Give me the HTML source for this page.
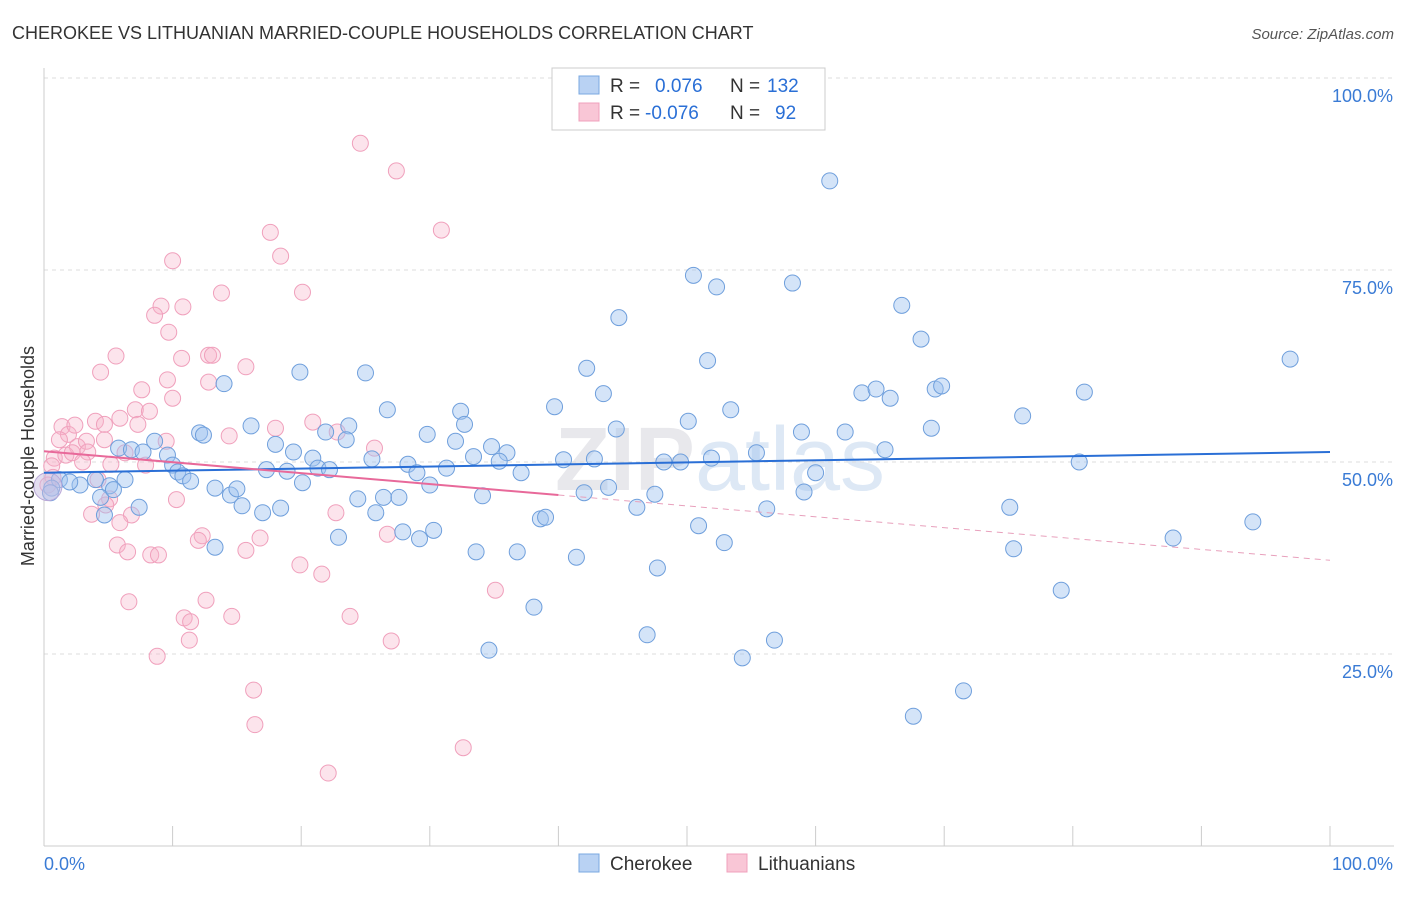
<!DOCTYPE html>
<html><head><meta charset="utf-8">
<style>
body{margin:0;background:#fff;font-family:"Liberation Sans",sans-serif;}
svg text{font-family:"Liberation Sans",sans-serif;}
</style></head>
<body>
<svg id="chart" width="1406" height="892" viewBox="0 0 1406 892" xmlns="http://www.w3.org/2000/svg">
<text x="12" y="39" font-size="18" fill="#333">CHEROKEE VS LITHUANIAN MARRIED-COUPLE HOUSEHOLDS CORRELATION CHART</text>
<text x="1394" y="39" font-size="15" fill="#555" font-style="italic" text-anchor="end">Source: ZipAtlas.com</text>
<text x="720" y="490" font-size="90" fill="#e8e8ec" text-anchor="middle" font-weight="bold">ZIP<tspan fill="#dde8f5" font-weight="normal">atlas</tspan></text>
<g id="grid"></g>
<g id="axes"></g>
<g id="pts"></g>
<g id="trends"></g>
<text transform="translate(34,456) rotate(-90)" font-size="18" fill="#333" text-anchor="middle">Married-couple Households</text>
<g>
<rect x="552" y="68" width="273" height="62" fill="#fff" stroke="#ccc"/>
<rect x="579" y="76" width="20" height="18" fill="#b9d2f3" stroke="#7aa8e0"/>
<rect x="579" y="103" width="20" height="18" fill="#f9c6d6" stroke="#f0a0bc"/>
<text x="610" y="92" font-size="19" fill="#333">R = </text><text x="655" y="92" font-size="19" fill="#2a6fd6">0.076</text>
<text x="730" y="92" font-size="19" fill="#333">N = </text><text x="767" y="92" font-size="19" fill="#2a6fd6">132</text>
<text x="610" y="119" font-size="19" fill="#333">R = </text><text x="645" y="119" font-size="19" fill="#2a6fd6">-0.076</text>
<text x="730" y="119" font-size="19" fill="#333">N = </text><text x="775" y="119" font-size="19" fill="#2a6fd6">92</text>
</g>
<g>
<rect x="579" y="854" width="20" height="18" fill="#b9d2f3" stroke="#7aa8e0"/>
<text x="610" y="870" font-size="19" fill="#333">Cherokee</text>
<rect x="727" y="854" width="20" height="18" fill="#f9c6d6" stroke="#f0a0bc"/>
<text x="758" y="870" font-size="19" fill="#333">Lithuanians</text>
</g>
</svg>
<script>
const yTicks=[25,50,75,100];
const yTickLabels=["25.0%","50.0%","75.0%","100.0%"];
const xTicks=[0,10,20,30,40,50,60,70,80,90,100];
const cherokeeX=[61.1,50.5,52.3,58.2,44.7,66.7,68.2,51.6,42.2,96.9,19.9,25.0,14.0,43.5,63.6,64.7,65.8,69.3,69.8,80.9,26.7,32.4,39.7,53.4,76.1,50.1,16.1,12.1,12.4,21.9,23.7,32.7,44.5,58.9,62.3,69.0,65.4,29.8,32.0,8.6,18.0,19.4,23.5,34.8,36.0,5.8,6.8,9.6,7.7,10.0,10.4,10.8,25.5,28.3,29.0,31.3,33.4,35.4,37.1,40.4,42.8,48.2,49.5,51.9,55.4,80.5,17.3,18.9,20.9,21.3,22.2,20.1,13.3,11.4,14.5,15.0,15.4,17.0,18.4,24.4,26.4,27.6,25.8,30.0,34.1,38.6,39.0,42.0,43.9,47.5,46.1,50.9,52.9,56.2,60.0,59.1,75.1,75.4,87.8,94.0,79.1,47.7,41.4,36.8,33.6,38.1,34.6,46.9,54.3,56.8,71.5,67.6,13.3,22.9,27.9,29.2,30.3,5.1,6.3,4.0,4.4,4.7,2.8,1.2,0.6,0.5,7.4,5.4,2.0];
const cherokeeY=[86.6,74.3,72.8,73.3,68.8,70.4,66.0,63.2,62.2,63.4,61.7,61.6,60.2,58.9,59.0,59.5,58.3,59.5,59.9,59.1,56.8,56.6,57.2,56.8,56.0,55.3,54.7,53.8,53.5,53.9,54.7,54.9,54.3,53.9,53.9,54.4,51.6,53.6,52.7,52.7,52.3,51.3,52.9,52.0,51.2,51.8,51.6,50.9,51.3,49.6,48.7,48.2,50.4,49.7,48.6,49.2,50.7,50.1,48.6,50.3,50.4,50.0,50.0,50.5,51.2,50.0,49.0,48.8,50.5,49.2,49.0,47.3,46.6,47.5,45.7,46.5,44.3,43.4,44.0,45.2,45.4,45.4,43.4,47.0,45.6,42.6,42.8,46.0,46.7,45.8,44.1,41.7,39.5,43.9,48.6,46.1,44.1,38.7,40.1,42.2,33.3,36.2,37.6,38.3,38.3,31.1,25.5,27.5,24.5,26.8,20.2,16.9,38.9,40.2,40.9,40.0,41.1,46.9,47.7,47.7,45.4,43.1,47.0,47.7,46.6,46.0,44.1,46.4,47.4];
const lithX=[24.6,27.4,30.9,17.6,18.4,10.0,20.1,13.8,9.1,10.8,8.6,9.7,5.6,10.7,12.8,13.1,4.4,15.7,9.6,12.8,7.6,10.0,7.1,8.2,5.9,4.0,4.7,7.3,18.0,20.9,22.8,14.4,1.4,1.9,2.4,1.2,2.6,3.3,4.7,3.4,0.8,1.7,2.2,3.0,6.3,7.9,9.5,25.7,5.2,0.6,0.7,4.2,0.3,5.1,4.8,3.7,6.8,10.3,22.7,26.7,16.8,5.9,12.3,12.0,5.7,6.5,8.3,8.9,15.7,19.9,21.6,35.1,6.6,12.6,14.6,10.9,11.4,23.8,11.3,27.0,8.8,16.3,16.4,32.6,22.1];
const lithY=[91.5,87.9,80.2,79.9,76.8,76.2,72.1,72.0,70.3,70.2,69.1,66.9,63.8,63.5,63.9,63.9,61.7,62.4,60.7,60.4,59.4,58.3,56.8,56.6,55.7,55.3,54.9,54.9,54.4,55.2,53.9,53.4,54.6,53.6,54.8,52.9,52.0,52.7,52.9,51.3,50.5,50.9,51.2,50.0,51.2,49.6,52.7,51.8,49.7,49.5,48.0,47.7,47.0,45.2,44.4,43.2,43.1,45.1,43.4,40.6,40.1,42.1,40.4,39.8,39.2,38.3,37.9,37.9,38.5,36.6,35.4,33.3,31.8,32.0,29.9,29.7,29.2,29.9,26.8,26.7,24.7,20.3,15.8,12.8,9.5];
const blueTrend=[48.6,51.3];
const pinkTrend=[51.4,45.7,37.2];
const pinkSolidEnd=40;

const X0=44,X1=1330,Y0=846,Y100=78;
const sx=v=>X0+(X1-X0)*v/100;
const sy=v=>Y0-(Y0-Y100)*v/100;
const NS="http://www.w3.org/2000/svg";
function mk(tag,attrs,parent){const e=document.createElementNS(NS,tag);for(const k in attrs)e.setAttribute(k,attrs[k]);parent.appendChild(e);return e;}
const grid=document.getElementById('grid'),axes=document.getElementById('axes'),pts=document.getElementById('pts'),tr=document.getElementById('trends');
yTicks.forEach((t,i)=>{
  const l=mk('line',{x1:X0,x2:1394,y1:sy(t),y2:sy(t),stroke:'#ddd','stroke-dasharray':'4,4'},grid);
  
  
  const tx=mk('text',{x:1393,y:sy(t)+24,'font-size':18,fill:'#3a7bd5','text-anchor':'end'},axes);
  tx.textContent=yTickLabels[i];
  
  
});
const ax=mk('line',{x1:X0,x2:1394,y1:Y0,y2:Y0,stroke:'#ccc'},axes);


const ay=mk('line',{x1:X0,x2:X0,y1:68,y2:Y0,stroke:'#ccc'},axes);


xTicks.forEach(t=>{
  const l=mk('line',{x1:sx(t),x2:sx(t),y1:Y0-20,y2:Y0,stroke:'#ccc'},axes);
  
  
});
const xl=mk('text',{x:44,y:870,'font-size':18,fill:'#3a7bd5'},axes);xl.textContent='0.0%';


const xr=mk('text',{x:1393,y:870,'font-size':18,fill:'#3a7bd5','text-anchor':'end'},axes);xr.textContent='100.0%';


lithX.forEach((x,i)=>{
  const c=mk('circle',{cx:sx(x),cy:sy(lithY[i]),r:8,fill:'rgba(246,178,200,0.35)',stroke:'#f0a0bc','stroke-width':1},pts);
  
  
});
cherokeeX.forEach((x,i)=>{
  const c=mk('circle',{cx:sx(x),cy:sy(cherokeeY[i]),r:8,fill:'rgba(160,195,240,0.45)',stroke:'#6f9fdc','stroke-width':1},pts);
  
  
});
const big=mk('circle',{cx:sx(0.3),cy:sy(46.8),r:14,fill:'rgba(200,190,225,0.5)',stroke:'#b9a8d8'},pts);


const bt=mk('line',{x1:sx(0),y1:sy(blueTrend[0]),x2:sx(100),y2:sy(blueTrend[1]),stroke:'#2a6fd6','stroke-width':2},tr);


const pt=mk('line',{x1:sx(0),y1:sy(pinkTrend[0]),x2:sx(pinkSolidEnd),y2:sy(pinkTrend[1]),stroke:'#e8699a','stroke-width':2},tr);


const pd=mk('line',{x1:sx(pinkSolidEnd),y1:sy(pinkTrend[1]),x2:sx(100),y2:sy(pinkTrend[2]),stroke:'#e8a0bc','stroke-width':1,'stroke-dasharray':'6,5'},tr);


</script>
</body></html>
